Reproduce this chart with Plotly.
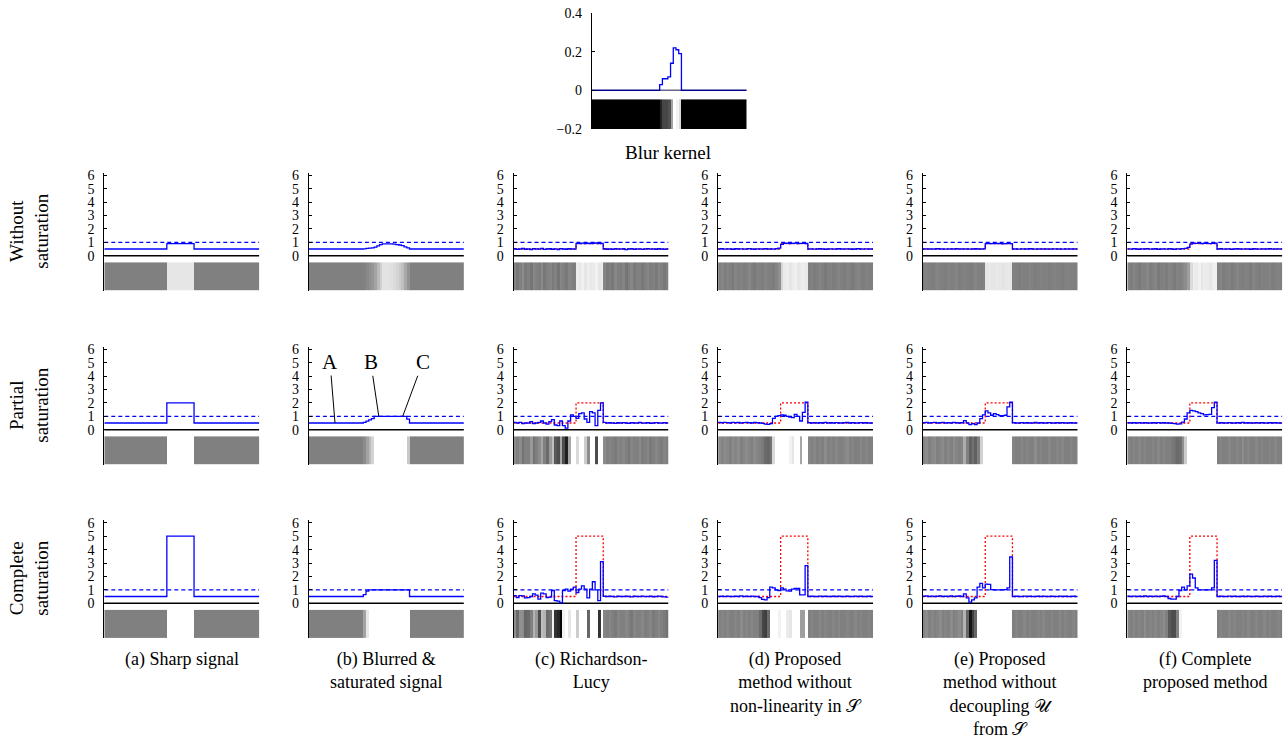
import plotly.graph_objects as go

# ---------------- data ----------------
N = 57
x_edges = list(range(N + 1))

kernel = [0] * 25 + [0.03, 0.06, 0.06, 0.07, 0.14, 0.22, 0.21, 0.19] + [0] * 24

sharp_none = [0.5] * 23 + [0.9] * 10 + [0.5] * 24
sharp_partial = [0.5] * 23 + [2.0] * 10 + [0.5] * 24
sharp_complete = [0.5] * 23 + [5.0] * 10 + [0.5] * 24

blur_none = [0.5] * 20 + [0.51, 0.54, 0.56, 0.59, 0.64, 0.73, 0.82, 0.89, 0.89, 0.89,
                          0.88, 0.86, 0.83, 0.80, 0.75, 0.66, 0.58] + [0.5] * 20
blur_partial = [0.5] * 20 + [0.55, 0.64, 0.73, 0.83] + [1.0] * 12 + [0.79] + [0.5] * 20
blur_complete = [0.5] * 20 + [0.64, 0.91] + [1.0] * 15 + [0.5] * 20

rl_none = [0.52, 0.47, 0.50, 0.55, 0.48, 0.50, 0.46, 0.53, 0.50, 0.49,
           0.54, 0.47, 0.50, 0.52, 0.48, 0.51, 0.46, 0.53, 0.50, 0.48,
           0.52, 0.50, 0.49,
           0.92, 0.90, 0.94, 0.90, 0.93, 0.91, 0.92, 0.95, 0.90, 0.92,
           0.52, 0.48, 0.50, 0.47, 0.53, 0.50, 0.49, 0.52, 0.46, 0.50,
           0.53, 0.48, 0.50, 0.51, 0.47, 0.50, 0.53, 0.49, 0.50, 0.48,
           0.52, 0.50, 0.47, 0.50]
nolin_none = [0.50, 0.52, 0.49, 0.51, 0.50, 0.48, 0.52, 0.50, 0.51, 0.49,
              0.50, 0.53, 0.50, 0.48, 0.51, 0.50, 0.49, 0.52, 0.50, 0.50,
              0.49, 0.52, 0.56,
              0.84, 0.92, 0.93, 0.90, 0.92, 0.94, 0.90, 0.92, 0.93, 0.91,
              0.50, 0.51, 0.49, 0.50, 0.52, 0.50, 0.48, 0.50, 0.51, 0.49,
              0.50, 0.52, 0.50, 0.49, 0.51, 0.50, 0.48, 0.50, 0.52, 0.50,
              0.49, 0.51, 0.50, 0.50]
nodec_none = [0.50, 0.51, 0.50, 0.49, 0.50, 0.52, 0.50, 0.50, 0.49, 0.51,
              0.50, 0.50, 0.52, 0.49, 0.50, 0.51, 0.50, 0.49, 0.50, 0.52,
              0.50, 0.50, 0.51,
              0.90, 0.91, 0.90, 0.90, 0.91, 0.90, 0.89, 0.90, 0.91, 0.90,
              0.50, 0.50, 0.49, 0.51, 0.50, 0.50, 0.52, 0.50, 0.49, 0.50,
              0.51, 0.50, 0.50, 0.49, 0.50, 0.51, 0.50, 0.50, 0.49, 0.50,
              0.51, 0.50, 0.50, 0.50]
full_none = [0.51, 0.49, 0.52, 0.50, 0.48, 0.51, 0.50, 0.53, 0.49, 0.50,
             0.52, 0.48, 0.50, 0.51, 0.49, 0.52, 0.50, 0.48, 0.51, 0.50,
             0.53, 0.55, 0.62,
             0.86, 0.93, 0.92, 0.95, 0.90, 0.93, 0.92, 0.90, 0.93, 0.94,
             0.50, 0.52, 0.49, 0.50, 0.51, 0.48, 0.50, 0.52, 0.50, 0.49,
             0.51, 0.50, 0.48, 0.52, 0.50, 0.49, 0.51, 0.50, 0.50, 0.52,
             0.49, 0.50, 0.51, 0.50]

rl_partial = [0.55, 0.50, 0.55, 0.45, 0.50, 0.50, 0.60, 0.45, 0.50, 0.55,
              0.65, 0.50, 0.42, 0.60, 0.75, 0.35, 0.30, 0.65, 0.30, 0.12,
              0.65, 1.10, 1.00,
              0.85, 1.20, 1.25, 0.80, 0.55, 1.35, 1.25, 0.30, 1.45, 2.00,
              0.55, 0.50, 0.52, 0.50, 0.48, 0.52, 0.50, 0.53, 0.50, 0.47,
              0.52, 0.50, 0.50, 0.54, 0.49, 0.50, 0.52, 0.48, 0.50, 0.53,
              0.50, 0.49, 0.52, 0.50]
nolin_partial = [0.55, 0.52, 0.55, 0.53, 0.50, 0.55, 0.52, 0.55, 0.50, 0.53,
                 0.55, 0.52, 0.50, 0.55, 0.52, 0.50, 0.48, 0.42, 0.40, 0.45,
                 0.85, 1.00, 1.05,
                 1.10, 1.08, 1.00, 0.95, 0.90, 1.15, 1.00, 0.65, 1.30, 2.05,
                 0.52, 0.50, 0.53, 0.50, 0.52, 0.50, 0.55, 0.50, 0.52, 0.50,
                 0.53, 0.50, 0.50, 0.52, 0.55, 0.50, 0.52, 0.50, 0.50, 0.53,
                 0.50, 0.52, 0.50, 0.50]
nodec_partial = [0.52, 0.55, 0.50, 0.53, 0.55, 0.50, 0.52, 0.55, 0.50, 0.53,
                 0.50, 0.55, 0.52, 0.50, 0.52, 0.68, 0.50, 0.38, 0.45, 0.38,
                 0.50, 0.82, 1.10,
                 1.40, 1.25, 1.08, 1.20, 1.12, 1.05, 1.05, 1.08, 1.70, 2.05,
                 0.52, 0.50, 0.50, 0.53, 0.50, 0.52, 0.50, 0.50, 0.55, 0.50,
                 0.52, 0.50, 0.50, 0.53, 0.50, 0.50, 0.52, 0.50, 0.53, 0.50,
                 0.50, 0.52, 0.50, 0.50]
full_partial = [0.52, 0.50, 0.52, 0.50, 0.53, 0.50, 0.52, 0.50, 0.50, 0.52,
                0.50, 0.53, 0.50, 0.52, 0.50, 0.50, 0.48, 0.45, 0.42, 0.44,
                0.57, 0.80, 1.25,
                1.45, 1.40, 1.35, 1.25, 1.20, 1.10, 1.12, 1.15, 1.65, 2.05,
                0.50, 0.52, 0.50, 0.50, 0.53, 0.50, 0.50, 0.52, 0.50, 0.55,
                0.50, 0.52, 0.50, 0.50, 0.53, 0.50, 0.52, 0.50, 0.50, 0.52,
                0.50, 0.53, 0.50, 0.50]

rl_complete = [0.57, 0.42, 0.57, 0.55, 0.40, 0.42, 0.50, 0.70, 0.60, 0.30,
               0.75, 0.70, 0.42, 0.45, 0.95, 0.20, 0.15, 0.02, 0.95, 1.05,
               0.90, 1.05, 1.20,
               0.80, 1.05, 1.30, 1.05, 0.40, 1.05, 1.60, 1.00, 0.20, 3.10,
               0.52, 0.50, 0.53, 0.50, 0.48, 0.52, 0.50, 0.50, 0.53, 0.50,
               0.47, 0.52, 0.50, 0.50, 0.53, 0.49, 0.50, 0.52, 0.48, 0.50,
               0.53, 0.50, 0.48, 0.45]
nolin_complete = [0.50, 0.52, 0.50, 0.53, 0.50, 0.50, 0.52, 0.50, 0.55, 0.50,
                  0.52, 0.50, 0.53, 0.50, 0.50, 0.42, 0.28, 0.25, 0.42, 1.20,
                  1.15, 1.00, 0.95,
                  1.15, 1.05, 0.92, 0.90, 1.05, 1.10, 1.10, 0.62, 0.62, 2.80,
                  0.50, 0.52, 0.50, 0.50, 0.53, 0.50, 0.52, 0.50, 0.50, 0.52,
                  0.50, 0.53, 0.50, 0.50, 0.52, 0.50, 0.50, 0.53, 0.50, 0.52,
                  0.50, 0.50, 0.52, 0.50]
nodec_complete = [0.52, 0.55, 0.50, 0.53, 0.50, 0.52, 0.55, 0.50, 0.52, 0.50,
                  0.55, 0.50, 0.52, 0.55, 0.50, 0.70, 0.40, 0.08, 0.25, 0.40,
                  1.20, 1.48, 1.15,
                  1.42, 1.40, 1.02, 1.00, 1.00, 1.00, 1.00, 1.02, 1.15, 3.45,
                  0.50, 0.52, 0.50, 0.50, 0.53, 0.50, 0.52, 0.50, 0.50, 0.52,
                  0.50, 0.53, 0.50, 0.50, 0.52, 0.50, 0.50, 0.53, 0.50, 0.52,
                  0.50, 0.50, 0.52, 0.50]
full_complete = [0.52, 0.50, 0.53, 0.50, 0.52, 0.50, 0.55, 0.50, 0.52, 0.50,
                 0.53, 0.50, 0.52, 0.55, 0.50, 0.35, 0.30, 0.30, 0.50, 0.95,
                 1.20, 1.00, 1.30,
                 2.17, 1.88, 1.15, 1.00, 1.00, 1.00, 1.00, 1.00, 1.15, 3.20,
                 0.50, 0.52, 0.50, 0.50, 0.53, 0.50, 0.52, 0.50, 0.50, 0.52,
                 0.50, 0.53, 0.50, 0.50, 0.52, 0.50, 0.50, 0.53, 0.50, 0.52,
                 0.50, 0.50, 0.52, 0.50]

saturation_level = 1.0
y_ticks = [0, 1, 2, 3, 4, 5, 6]
kernel_ticks = [-0.2, 0, 0.2, 0.4]
kernel_ticktext = ["\u22120.2", "0", "0.2", "0.4"]

row_labels = ["Without<br>saturation", "Partial<br>saturation", "Complete<br>saturation"]
captions = ["(a) Sharp signal",
            "(b) Blurred &amp;<br>saturated signal",
            "(c) Richardson-<br>Lucy",
            "(d) Proposed<br>method without<br>non-linearity in \U0001D4AE",
            "(e) Proposed<br>method without<br>decoupling \U0001D4B0<br>from \U0001D4AE",
            "(f) Complete<br>proposed method"]

rows = [
    (sharp_none, [sharp_none, blur_none, rl_none, nolin_none, nodec_none, full_none]),
    (sharp_partial, [sharp_partial, blur_partial, rl_partial, nolin_partial, nodec_partial, full_partial]),
    (sharp_complete, [sharp_complete, blur_complete, rl_complete, nolin_complete, nodec_complete, full_complete]),
]
for truth, series in rows:
    for s in [truth] + series:
        assert len(s) == N, len(s)

# ---------------- layout helpers ----------------
W, H = 1285, 751
SERIF = "Liberation Serif"
TICKFONT = dict(family=SERIF, size=14, color="black")
GRAY = [[0, "black"], [1, "white"]]


def ypx(v):
    # map a target screen row to a paper row (compensates the page offset seen in the render)
    return (v - 7.3) / 0.98


fig = go.Figure()
counter = [0]


def new_axes(x0, x1, y0, y1, yrange, tickvals, ticktext):
    counter[0] += 1
    k = counter[0]
    sfx = "" if k == 1 else str(k)
    fig.update_layout(**{
        "xaxis" + sfx: dict(domain=[x0 / W, x1 / W], range=[0, N], visible=False,
                            anchor="y" + sfx, fixedrange=True),
        "yaxis" + sfx: dict(domain=[1 - ypx(y1) / H, 1 - ypx(y0) / H], range=yrange,
                            anchor="x" + sfx,
                            showline=True, linecolor="black", linewidth=1,
                            ticks="inside", ticklen=3, tickwidth=1, tickcolor="black",
                            tickvals=tickvals, ticktext=ticktext, tickfont=TICKFONT,
                            showgrid=False, zeroline=False, ticklabelstandoff=6,
                            fixedrange=True),
    })
    return "x" + sfx, "y" + sfx


def step(v):
    return v + [v[-1]]


# ---------------- blur kernel panel ----------------
kx, ky = new_axes(591.7, 746.7, 13.3, 129.3, [-0.2, 0.4], kernel_ticks, kernel_ticktext)
fig.add_trace(go.Heatmap(x=x_edges, y=[-0.2, -0.047], z=[kernel], colorscale=GRAY,
                         zmin=0, zmax=max(kernel), showscale=False, hoverinfo="skip",
                         xaxis=kx, yaxis=ky))
fig.add_trace(go.Scatter(x=x_edges, y=step(kernel), mode="lines", line_shape="hv",
                         line=dict(color="#0000FF", width=1.3), xaxis=kx, yaxis=ky,
                         hoverinfo="skip"))
fig.add_trace(go.Scatter(x=[0, N], y=[0, 0], mode="lines",
                         line=dict(color="rgba(0,0,60,0.6)", width=1.5), xaxis=kx, yaxis=ky,
                         hoverinfo="skip"))

# ---------------- 3 x 6 grid ----------------
col_left = [104.3 + 204.6 * j for j in range(6)]
panel_w = 155
row_zero = [256, 430, 603.5]
unit = 13.4
ylo, yhi = -2.6, 6.2
strip_top = -0.5
abc_axes = None

for r, (truth, series) in enumerate(rows):
    z0 = row_zero[r]
    for c, vals in enumerate(series):
        xa, ya = new_axes(col_left[c], col_left[c] + panel_w,
                          z0 - yhi * unit, z0 - ylo * unit, [ylo, yhi],
                          y_ticks, [str(t) for t in y_ticks])
        if r == 1 and c == 1:
            abc_axes = (xa, ya)
        fig.add_trace(go.Heatmap(x=x_edges, y=[ylo, strip_top], z=[vals], colorscale=GRAY,
                                 zmin=0, zmax=1, showscale=False, hoverinfo="skip",
                                 xaxis=xa, yaxis=ya))
        fig.add_trace(go.Scatter(x=[0, N], y=[0, 0], mode="lines",
                                 line=dict(color="black", width=1.5),
                                 xaxis=xa, yaxis=ya, hoverinfo="skip"))
        fig.add_trace(go.Scatter(x=[0, N], y=[saturation_level, saturation_level], mode="lines",
                                 line=dict(color="#0000FF", width=1.2, dash="4px,3px"),
                                 xaxis=xa, yaxis=ya, hoverinfo="skip"))
        if c > 1:
            fig.add_trace(go.Scatter(x=x_edges, y=step(truth), mode="lines", line_shape="hv",
                                     line=dict(color="#FF0000", width=1.3, dash="2px,2px"),
                                     xaxis=xa, yaxis=ya, hoverinfo="skip"))
        fig.add_trace(go.Scatter(x=x_edges, y=step(vals), mode="lines", line_shape="hv",
                                 line=dict(color="#0000FF", width=1.3),
                                 xaxis=xa, yaxis=ya, hoverinfo="skip"))

# ---------------- annotations ----------------
ann = []
ann.append(dict(text="Blur kernel", x=668 / W, y=1 - ypx(153) / H, xref="paper", yref="paper",
                showarrow=False, font=dict(family=SERIF, size=19, color="black"),
                xanchor="center", yanchor="middle"))
row_center = [232, 406, 579]
for r, lab in enumerate(row_labels):
    ann.append(dict(text=lab, x=29 / W, y=1 - ypx(row_center[r]) / H, xref="paper",
                    yref="paper", showarrow=False, textangle=-90,
                    font=dict(family=SERIF, size=19, color="black"),
                    xanchor="center", yanchor="middle"))
for c, cap in enumerate(captions):
    ann.append(dict(text=cap, x=(col_left[c] + panel_w / 2) / W, y=1 - ypx(647) / H,
                    xref="paper", yref="paper", showarrow=False,
                    font=dict(family=SERIF, size=18, color="black"),
                    xanchor="center", yanchor="top", align="center"))
xa, ya = abc_axes
for lbl, px, py, ax, ay in [("A", 9.6, 0.5, -5, -61), ("B", 25.7, 1.0, -8, -54),
                             ("C", 34.5, 1.0, 20, -54)]:
    ann.append(dict(text=lbl, x=px, y=py, xref=xa, yref=ya, showarrow=True, arrowhead=0,
                    arrowwidth=1, arrowcolor="black", ax=ax, ay=ay,
                    font=dict(family=SERIF, size=21, color="black")))

fig.update_layout(width=W, height=H, margin=dict(l=0, r=0, t=0, b=0),
                  paper_bgcolor="white", plot_bgcolor="rgba(0,0,0,0)",
                  showlegend=False, annotations=ann)

fig.write_html("out.html", config={"displayModeBar": False},
               post_script="document.body.style.margin='0';")
